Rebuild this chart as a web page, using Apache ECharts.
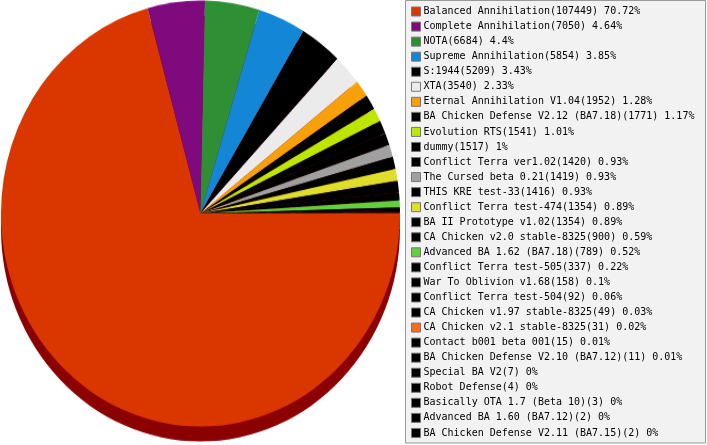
<!DOCTYPE html>
<html>
<head>
<meta charset="utf-8">
<script src="https://cdn.jsdelivr.net/npm/echarts@6/dist/echarts.min.js"></script>
<style>
html,body{margin:0;padding:0;background:#fff;width:707px;height:445px;overflow:hidden;}
#pie{position:absolute;left:0;top:0;width:402px;height:420px;transform:scaleY(1.0675);transform-origin:0 0;}
#leg{position:absolute;left:405px;top:0;width:302px;height:445px;}
</style>
</head>
<body>
<div id="pie"></div>
<div id="leg"></div>
<script>
var names = [
  "Balanced Annihilation","Complete Annihilation","NOTA","Supreme Annihilation","S:1944","XTA",
  "Eternal Annihilation V1.04","BA Chicken Defense V2.12 (BA7.18)","Evolution RTS","dummy",
  "Conflict Terra ver1.02","The Cursed beta 0.21","THIS KRE test-33","Conflict Terra test-474",
  "BA II Prototype v1.02","CA Chicken v2.0 stable-8325","Advanced BA 1.62 (BA7.18)",
  "Conflict Terra test-505","War To Oblivion v1.68","Conflict Terra test-504",
  "CA Chicken v1.97 stable-8325","CA Chicken v2.1 stable-8325","Contact b001 beta 001",
  "BA Chicken Defense V2.10 (BA7.12)","Special BA V2","Robot Defense","Basically OTA 1.7 (Beta 10)",
  "Advanced BA 1.60 (BA7.12)","BA Chicken Defense V2.11 (BA7.15)"
];
var values = [107449,7050,6684,5854,5209,3540,1952,1771,1541,1517,1420,1419,1416,1354,1354,900,789,337,158,92,49,31,15,11,7,4,3,2,2];
var percents = ["70.72","4.64","4.4","3.85","3.43","2.33","1.28","1.17","1.01","1","0.93","0.93","0.93","0.89","0.89","0.59","0.52","0.22","0.1","0.06","0.03","0.02","0.01","0.01","0","0","0","0","0"];
var colors = ["#D93600","#7E0A7E","#2E8F34","#1486D6","#000000","#EBEBEB","#F7A00A","#000000","#BDE600","#000000",
  "#000000","#A0A0A0","#000000","#DEDE2C","#000000","#000000","#62D03C","#000000","#000000","#000000",
  "#000000","#F86B1E","#000000","#000000","#000000","#000000","#000000","#000000","#000000"];
var shadowColor = "#8B0000";

var data = names.map(function(n,i){ return {name:n, value:values[i], itemStyle:{color:colors[i]}}; });
var shadowData = names.map(function(n,i){ return {name:n, value:values[i], itemStyle:{color:shadowColor}}; });

var pie = echarts.init(document.getElementById('pie'), null, {renderer:'canvas'});
pie.setOption({
  animation:false,
  series:[
    {type:'pie', silent:true, center:[200.5,214], radius:[0,199.5], startAngle:0, clockwise:true,
     label:{show:false}, labelLine:{show:false}, data:shadowData, z:1},
    {type:'pie', silent:true, center:[200.5,200], radius:[0,199.5], startAngle:0, clockwise:true,
     label:{show:false}, labelLine:{show:false}, data:data, z:2}
  ]
});

var leg = echarts.init(document.getElementById('leg'), null, {renderer:'canvas'});
leg.setOption({
  animation:false,
  graphic:[{type:'rect', shape:{x:0.5,y:0.5,width:300,height:442.5}, style:{fill:'#F2F2F2', stroke:'#999999', lineWidth:1}, z:-1}],
  legend:{
    orient:'vertical', left:6, top:4, padding:0, itemGap:0, itemWidth:9, itemHeight:9,
    icon:'rect', selectedMode:false,
    itemStyle:{borderColor:'#777777', borderWidth:1},
    textStyle:{fontFamily:'DejaVu Sans Mono', fontSize:10, color:'#000', lineHeight:15.05, padding:[0,0,0,-2]},
    formatter:function(name){ var i = names.indexOf(name); return name + '(' + values[i] + ') ' + percents[i] + '%'; },
    data:names
  },
  series:[{type:'pie', center:[-100,-100], radius:[0,0], label:{show:false}, data:data}]
});
</script>
</body>
</html>
